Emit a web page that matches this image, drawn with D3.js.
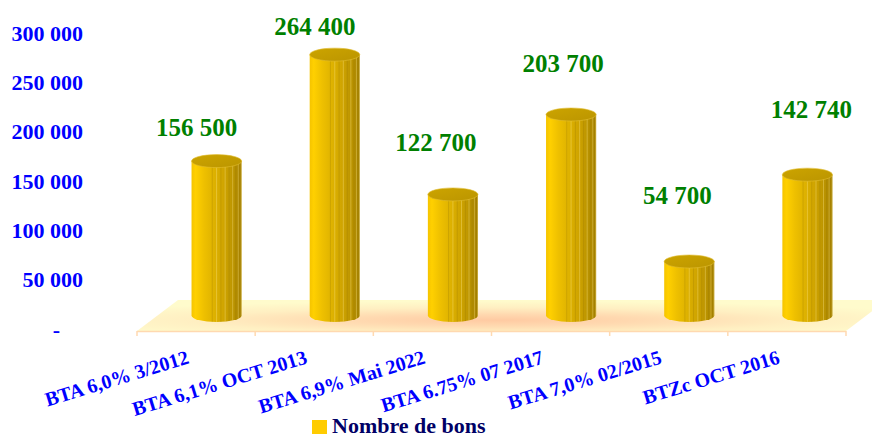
<!DOCTYPE html>
<html>
<head>
<meta charset="utf-8">
<script src="https://cdn.jsdelivr.net/npm/d3@7"></script>
<style>
  body { margin: 0; background: #fff; }
  svg { display: block; }
</style>
</head>
<body>
<div id="chart"></div>
<script>
'use strict';

// data
const categories = ['BTA 6,0% 3/2012', 'BTA 6,1% OCT 2013', 'BTA 6,9% Mai 2022',
                    'BTA 6.75% 07 2017', 'BTA 7,0% 02/2015', 'BTZc OCT 2016'];
const bons = [156500, 264400, 122700, 203700, 54700, 142740];
const yTicks = [0, 50000, 100000, 150000, 200000, 250000, 300000];
const seriesName = 'Nombre de bons';

// hand placed value labels in the original, offsets from the top of each cylinder
const labelNudge = [[-20, -25], [-20, -20], [-17, -43], [-8, -43], [-12, -58], [4, -57]];

const width = 872;
const height = 438;
const serif = '"Liberation Serif", "Times New Roman", serif';
const depthX = 41, depthY = 31;   // 3d floor depth

const svg = d3.select('#chart')
    .append('svg')
    .attr('width', width)
    .attr('height', height);

const x = d3.scaleBand()
    .domain(categories)
    .range([137, 846]);

const y = d3.scaleLinear()
    .domain([0, 300000])
    .range([331, 35]);

const defs = svg.append('defs');

// floor gradient: pale yellow with an orange glow in the middle
const floorGrad = defs.append('radialGradient')
    .attr('id', 'floorGrad')
    .attr('cx', 0.48).attr('cy', 0.65).attr('r', 0.62);
floorGrad.append('stop').attr('offset', '0%').attr('stop-color', '#ffcaa2');
floorGrad.append('stop').attr('offset', '30%').attr('stop-color', '#ffd9b0');
floorGrad.append('stop').attr('offset', '65%').attr('stop-color', '#ffefc2');
floorGrad.append('stop').attr('offset', '100%').attr('stop-color', '#fffbcc');

// cylinder side
const sideGrad = defs.append('linearGradient')
    .attr('id', 'sideGrad')
    .attr('x1', 0).attr('x2', 1).attr('y1', 0).attr('y2', 0);
[['0%', '#f5c400'], ['8%', '#ffd000'], ['25%', '#eec000'], ['45%', '#deb200'],
 ['65%', '#cfa400'], ['85%', '#b99200'], ['100%', '#a48000']].forEach(s => {
    sideGrad.append('stop').attr('offset', s[0]).attr('stop-color', s[1]);
});

const topGrad = defs.append('linearGradient')
    .attr('id', 'topGrad')
    .attr('x1', 0).attr('x2', 1).attr('y1', 0).attr('y2', 1);
topGrad.append('stop').attr('offset', '0%').attr('stop-color', '#cca400');
topGrad.append('stop').attr('offset', '100%').attr('stop-color', '#bb9500');

// floor
const x0 = x.range()[0], x1 = x.range()[1], fy = y(0);
svg.append('path')
    .attr('d', `M${x0},${fy} L${x0 + depthX},${fy - depthY} L${x1 + depthX},${fy - depthY} L${x1},${fy} Z`)
    .attr('fill', 'url(#floorGrad)');

svg.append('line')
    .attr('x1', x0).attr('x2', x1)
    .attr('y1', fy + 0.5).attr('y2', fy + 0.5)
    .attr('stroke', '#ffd9b0').attr('stroke-width', 1.5);

const bounds = categories.map(c => x(c)).concat([x1]);
svg.selectAll('.tick-mark')
    .data(bounds)
    .enter()
    .append('line')
    .attr('class', 'tick-mark')
    .attr('x1', d => d).attr('x2', d => d)
    .attr('y1', fy).attr('y2', fy + 5)
    .attr('stroke', '#ffd9b0').attr('stroke-width', 1.5);

// y axis
const yAxis = d3.axisLeft(y)
    .tickValues(yTicks)
    .tickSize(0)
    .tickPadding(3)
    .tickFormat(d => d === 0 ? '-' : d3.format(',')(d).replace(/,/g, ' '));

const yg = svg.append('g')
    .attr('transform', 'translate(86,-2)')
    .call(yAxis);
yg.select('.domain').remove();
yg.selectAll('text')
    .style('font-family', serif)
    .style('font-size', '22px')
    .style('font-weight', 'bold')
    .attr('fill', '#0000ff');
yg.selectAll('.tick').filter(d => d === 0).select('text').attr('x', -26);

// cylinders
const r = x.bandwidth() * 0.212;
const ry = 6.5;
const cyl = svg.selectAll('.cyl')
    .data(bons)
    .enter()
    .append('g')
    .attr('class', 'cyl');

const cx = (d, i) => x(categories[i]) + x.bandwidth() / 2 + depthX / 2;
const base = fy - depthY / 2;
const topY = d => y(d) - depthY / 2;

cyl.append('path')
    .attr('d', (d, i) => {
        const c = cx(d, i);
        return `M${c - r},${topY(d)} L${c - r},${base} A${r},${ry} 0 0 0 ${c + r},${base} L${c + r},${topY(d)} Z`;
    })
    .attr('fill', 'url(#sideGrad)');

// facet stripes
const facets = d3.range(1, 18).map(k => Math.cos(Math.PI * k / 18));
cyl.each(function(d, i) {
    const c = cx(d, i);
    d3.select(this).selectAll('line')
        .data(facets.filter(f => f < 0.3))
        .enter()
        .append('line')
        .attr('x1', f => c - r * f).attr('x2', f => c - r * f)
        .attr('y1', topY(d)).attr('y2', f => base + ry * Math.sqrt(1 - f * f))
        .attr('stroke', (f, k) => k % 2 ? 'rgba(255,232,140,0.45)' : 'rgba(150,115,0,0.35)')
        .attr('stroke-width', 0.8);
});

cyl.append('ellipse')
    .attr('cx', cx)
    .attr('cy', topY)
    .attr('rx', r)
    .attr('ry', ry)
    .attr('fill', 'url(#topGrad)')
    .attr('stroke', '#e2bd30')
    .attr('stroke-width', 0.6);

// value labels
svg.selectAll('.val')
    .data(bons)
    .enter()
    .append('text')
    .attr('class', 'val')
    .attr('x', (d, i) => cx(d, i) + labelNudge[i][0])
    .attr('y', (d, i) => topY(d) + labelNudge[i][1])
    .attr('text-anchor', 'middle')
    .style('font-family', serif)
    .style('font-size', '25px')
    .style('font-weight', 'bold')
    .attr('fill', '#008000')
    .text(d => d3.format(',')(d).replace(/,/g, ' '));

// category labels
svg.selectAll('.cat')
    .data(categories)
    .enter()
    .append('text')
    .attr('class', 'cat')
    .attr('text-anchor', 'end')
    .attr('transform', d => `translate(${x(d) + x.bandwidth() / 2 - 6},363) rotate(-17)`)
    .style('font-family', serif)
    .style('font-size', '20px')
    .style('font-weight', 'bold')
    .attr('fill', '#0000ff')
    .text(d => d);

// legend
const legend = svg.append('g').attr('transform', 'translate(312,420)');
legend.append('rect')
    .attr('width', 15).attr('height', 14)
    .attr('fill', '#ffcc00');
legend.append('text')
    .attr('x', 20).attr('y', 13)
    .style('font-family', serif)
    .style('font-size', '22px')
    .style('font-weight', 'bold')
    .attr('fill', '#000066')
    .text(seriesName);
</script>
</body>
</html>
